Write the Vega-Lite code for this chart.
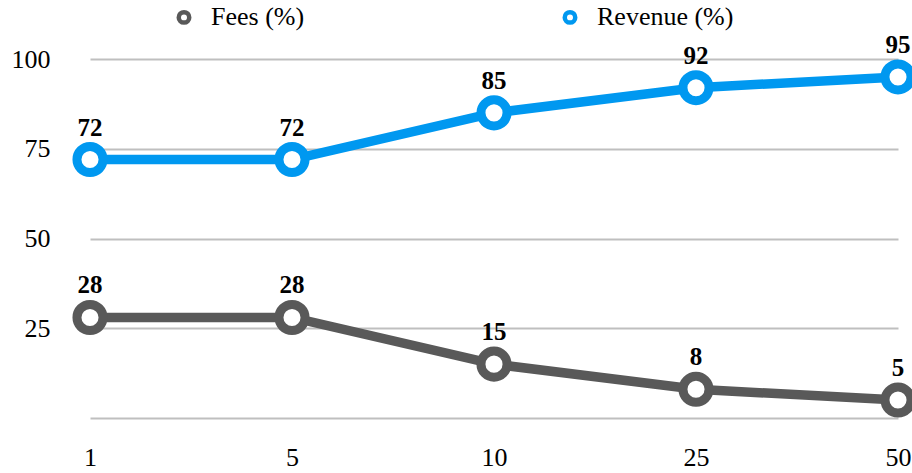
{
  "$schema": "https://vega.github.io/schema/vega-lite/v6.json",
  "autosize": {"type": "none"},
  "width": 808,
  "height": 359,
  "padding": {"left": 90, "top": 59, "right": 14, "bottom": 55},
  "background": "white",
  "config": {
    "font": "Liberation Serif",
    "view": {"stroke": null}
  },
  "data": {
    "values": [
      {"x": 1, "series": "Fees (%)", "v": 28},
      {"x": 5, "series": "Fees (%)", "v": 28},
      {"x": 10, "series": "Fees (%)", "v": 15},
      {"x": 25, "series": "Fees (%)", "v": 8},
      {"x": 50, "series": "Fees (%)", "v": 5},
      {"x": 1, "series": "Revenue (%)", "v": 72},
      {"x": 5, "series": "Revenue (%)", "v": 72},
      {"x": 10, "series": "Revenue (%)", "v": 85},
      {"x": 25, "series": "Revenue (%)", "v": 92},
      {"x": 50, "series": "Revenue (%)", "v": 95}
    ]
  },
  "encoding": {
    "x": {
      "field": "x", "type": "ordinal",
      "scale": {"type": "point", "padding": 0},
      "axis": {"title": null, "labelAngle": 0, "domain": false, "ticks": false, "labelPadding": 26, "labelFontSize": 26, "labelColor": "#000000", "labelFont": "Liberation Serif"}
    },
    "y": {
      "field": "v", "type": "quantitative",
      "scale": {"domain": [0, 100], "nice": false},
      "axis": {"title": null, "values": [0, 25, 50, 75, 100], "labelExpr": "datum.value == 0 ? '' : datum.label", "domain": false, "ticks": false, "labelPadding": 40, "labelFontSize": 26, "labelColor": "#000000", "gridColor": "#bfbfbf", "gridWidth": 2}
    },
    "color": {"field": "series", "type": "nominal", "scale": {"domain": ["Fees (%)", "Revenue (%)"], "range": ["#595959", "#0098F0"]},
      "legend": {"title": null, "orient": "none", "legendX": 81, "legendY": -55, "direction": "horizontal", "symbolType": "circle", "symbolFillColor": "white", "symbolStrokeWidth": 4.5, "symbolSize": 110, "labelFontSize": 26, "labelColor": "#000000", "labelFont": "Liberation Serif", "columnPadding": 250, "labelOffset": 14}}
  },
  "layer": [
    {
      "mark": {"type": "line", "strokeWidth": 9.5}
    },
    {
      "mark": {"type": "point", "filled": false, "fill": "white", "fillOpacity": 1, "strokeWidth": 9, "size": 680, "opacity": 1}
    },
    {
      "mark": {"type": "text", "dy": -32, "fontWeight": "bold", "fontSize": 25, "color": "#000000"},
      "encoding": {"text": {"field": "v", "type": "quantitative"}, "color": {"value": "#000000"}}
    }
  ]
}
